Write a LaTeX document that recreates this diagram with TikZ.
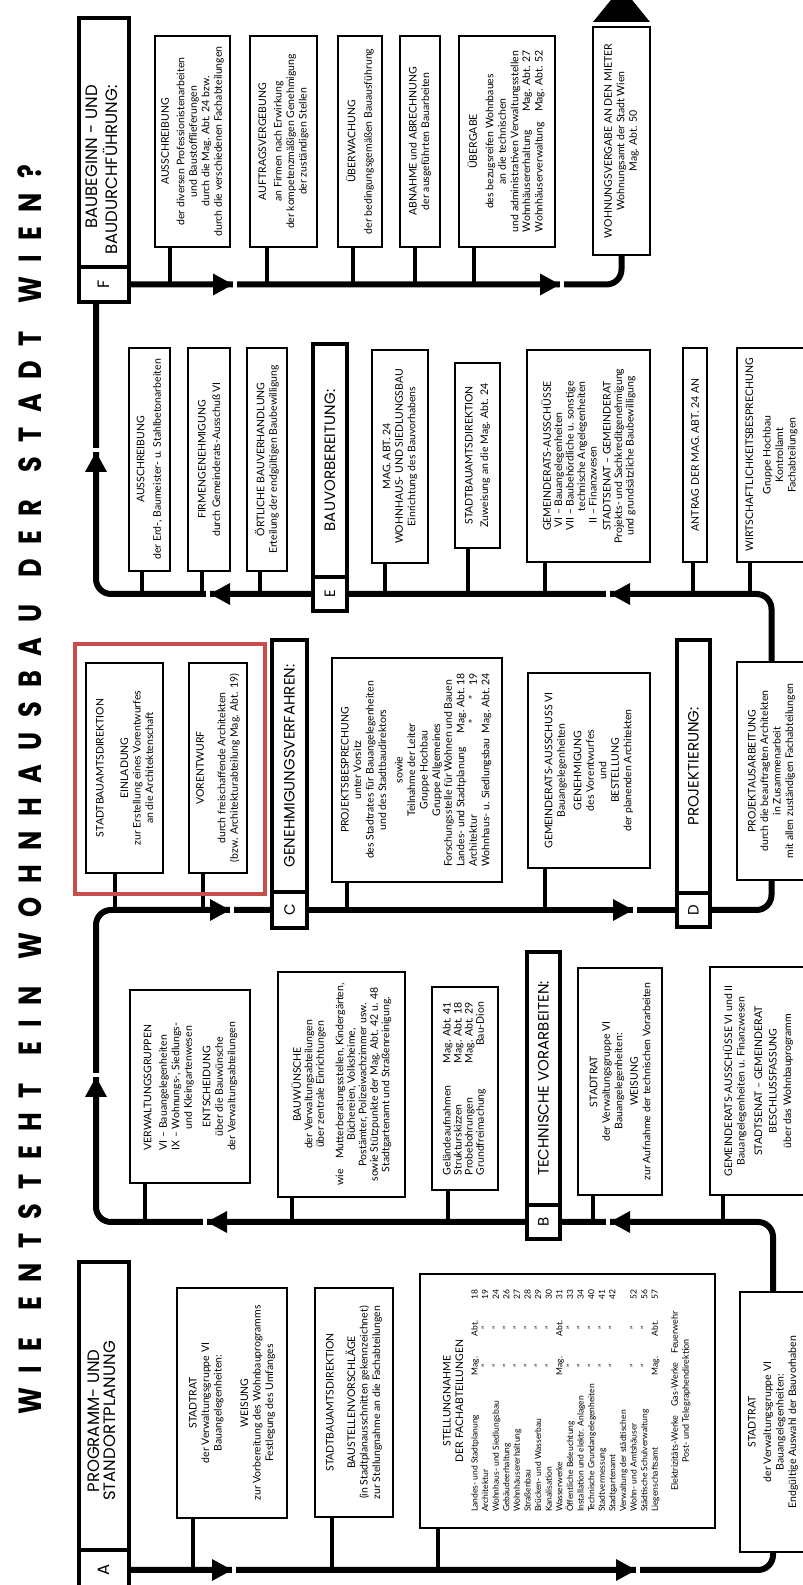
\documentclass[tikz,border=0pt]{standalone}
\usepackage{fontspec}
\setmainfont{Lato}
\newfontfamily\headfont{Poppins}
\newfontfamily\titlefont{Poppins}[LetterSpace=45, FakeStretch=0.8]
\definecolor{markred}{RGB}{199,78,76}

\tikzset{
  box/.style={draw, line width=1.4pt, fill=white, anchor=north west, outer sep=0pt,
    inner sep=1pt, align=center, font=\fontsize{10.5}{12.5}\selectfont},
  sz/.style 2 args={minimum width=#1pt, minimum height=#2pt},
  head/.style={draw, line width=3.8pt, fill=white, anchor=north west, outer sep=0pt,
    inner sep=0pt, align=center, font=\headfont\fontsize{15}{16}\selectfont},
  bighead/.style={head, font=\headfont\fontsize{16.5}{16}\selectfont},
  ttl/.style={anchor=base, inner sep=0pt, font=\titlefont\bfseries\fontsize{32}{32}\selectfont},
  flow/.style={line width=6pt, rounded corners=15pt},
  stub/.style={line width=3.2pt},
  redframe/.style={draw=markred, line width=3.5pt, anchor=north west, outer sep=0pt},
  flowtip/.pic={
    \fill[white] (0,-8) rectangle (4,8);
    \fill (-20,-11) -- (0,0) -- (-20,11) -- cycle;
  },
}

\begin{document}
\begin{tikzpicture}[x=1pt, y=1pt]
\fill[white] (0,0) rectangle (803,1585);
\useasboundingbox (0,0) rectangle (803,1585);
\begin{scope}[transform canvas={rotate=90}]

% title
\node (title) [ttl] at (795,-41) {\hbox to 1250pt{WIE\hfill ENTSTEHT\hfill EIN\hfill WOHNHAUSBAU\hfill DER\hfill STADT\hfill WIEN?}};

% stage headers
\node (hAl) [bighead, sz={40}{50}] at (-5,-79) {A};
\node (hA) [bighead, sz={288}{50}] at (hAl.north east) {\begin{tabular}{@{}c@{}}PROGRAMM- UND\\STANDORTPLANUNG\end{tabular}\hspace*{30pt}};
\node (hBl) [head, sz={34}{33}] at (346,-527) {B};
\node (hB) [head, sz={253}{33}] at (hBl.north east) {TECHNISCHE VORARBEITEN:};
\node (hCl) [head, sz={36}{35}] at (657,-272) {C};
\node (hC) [head, sz={252}{35}] at (hCl.north east) {GENEHMIGUNGSVERFAHREN:};
\node (hDl) [head, sz={34}{33}] at (658,-677) {D};
\node (hD) [head, sz={253}{33}] at (hDl.north east) {PROJEKTIERUNG:};
\node (hEl) [head, sz={34}{34}] at (974,-313) {E};
\node (hE) [head, sz={233}{34}] at (hEl.north east) {BAUVORBEREITUNG:};
\node (hFl) [bighead, sz={35}{50}] at (1283,-79) {F};
\node (hF) [bighead, sz={249}{50}] at (hFl.north east) {\begin{tabular}{@{}r@{}}BAUBEGINN - UND\\BAUDURCHFÜHRUNG:\end{tabular}\hspace*{55pt}};

% A
\node (st1) [box, sz={230}{110}] at (67,-177) {STADTRAT\\der Verwaltungsgruppe VI\\Bauangelegenheiten:\\[14pt]WEISUNG\\zur Vorbereitung des Wohnbauprogramms\\Festlegung des Umfanges};
\node (bsv) [box, sz={229}{78}] at (68,-315) {STADTBAUAMTSDIREKTION\\[9pt]BAUSTELLENVORSCHLÄGE\\(in Stadtplanausschnitten gekennzeichnet)\\zur Stellungnahme an die Fachabteilungen};
\node (stel) [box, sz={254}{295}] at (57,-420) {STELLUNGNAHME\\DER FACHABTEILUNGEN\\[6pt]
  {\fontsize{8.5}{10.6}\selectfont
  \begin{tabular*}{222pt}{@{}l@{\extracolsep{\fill}}ccr@{}}
  Landes- und Stadtplanung & Mag. & Abt. & 18\\
  Architektur & ” & ” & 19\\
  Wohnhaus- und Siedlungsbau & ” & ” & 24\\
  Gebäudeerhaltung & ” & ” & 26\\
  Wohnhäusererhaltung & ” & ” & 27\\
  Straßenbau & ” & ” & 28\\
  Brücken- und Wasserbau & ” & ” & 29\\
  Kanalisation & ” & ” & 30\\
  Wasserwerke & Mag. & Abt. & 31\\
  Öffentliche Beleuchtung & ” & ” & 33\\
  Installation und elektr. Anlagen & ” & ” & 34\\
  Technische Grundangelegenheiten & ” & ” & 40\\
  Stadtvermessung & ” & ” & 41\\
  Stadtgartenamt & ” & ” & 42\\
  Verwaltung der städtischen & & & \\
  Wohn- und Amtshäuser & ” & ” & 52\\
  Städtische Schulverwaltung & ” & ” & 56\\
  Liegenschaftsamt & Mag. & Abt. & 57
  \end{tabular*}}\\[8pt]
  {\fontsize{9}{11}\selectfont\begin{tabular}{@{}c@{}}Elektrizitäts-Werke\quad Gas-Werke\quad Feuerwehr\\Post- und Telegraphendirektion\end{tabular}}};
\node (stBot) [box, sz={260}{66}] at (33,-740) {STADTRAT\\[3pt]der Verwaltungsgruppe VI\\Bauangelegenheiten:\\Endgültige Auswahl der Bauvorhaben};

% B
\node (vwg) [box, sz={193}{120}] at (402,-130) {\begin{tabular}{@{}l@{}}VERWALTUNGSGRUPPEN\\[3pt]VI -- Bauangelegenheiten\\IX -- Wohnungs-, Siedlungs-\\\phantom{IX -- }und Kleingartenwesen\end{tabular}\\[6pt]ENTSCHEIDUNG\\über die Bauwünsche\\der Verwaltungsabteilungen};
\node (bauw) [box, sz={225}{127}, font=\fontsize{10.5}{11.5}\selectfont] at (388,-278) {BAUWÜNSCHE\\der Verwaltungsabteilungen\\über zentrale Einrichtungen\\[8pt]wie\quad Mutterberatungsstellen, Kindergärten,\\Büchereien, Volksheime,\\Postämter, Polizeiwachzimmer usw.\\sowie Stützpunkte der Mag. Abt. 42 u. 48\\Stadtgartenamt und Straßenreinigung.};
\node (gel) [box, sz={203}{66}, font=\fontsize{10.5}{11}\selectfont] at (395,-432) {\begin{tabular}{@{}l@{\hspace{22pt}}r@{}}
  Geländeaufnahmen & Mag. Abt. 41\\
  Strukturskizzen & Mag. Abt. 18\\
  Probebohrungen & Mag. Abt. 29\\
  Grundfreimachung & Bau-Dion
  \end{tabular}};
\node (stB) [box, sz={227}{84}] at (390,-578) {STADTRAT\\der Verwaltungsgruppe VI\\Bauangelegenheiten:\\[3pt]WEISUNG\\zur Aufnahme der technischen Vorarbeiten};
\node (gaVIII) [box, sz={228}{96}] at (390,-710) {GEMEINDERATS-AUSSCHÜSSE VI und II\\Bauangelegenheiten u. Finanzwesen\\[5pt]STADTSENAT -- GEMEINDERAT\\[2pt]BESCHLUSSFASSUNG\\[2pt]über das Wohnbauprogramm};

% C
\node (einl) [box, sz={210}{77}] at (712,-86) {STADTBAUAMTSDIREKTION\\[12pt]EINLADUNG\\zur Erstellung eines Vorentwurfes\\an die Architektenschaft};
\node (vor) [box, sz={210}{58}] at (712,-189) {VORENTWURF\\[9pt]durch freischaffende Architekten\\(bzw. Architekturabteilung Mag. Abt. 19)};
\node (proj) [box, sz={224}{170}] at (703,-332) {PROJEKTSBESPRECHUNG\\unter Vorsitz\\des Stadtrates für Bauangelegenheiten\\und des Stadtbaudirektors\\[4pt]sowie\\Teilnahme der Leiter\\Gruppe Hochbau\\Gruppe Allgemeines\\
  \begin{tabular}{@{}l@{\hspace{5pt}}c@{\hspace{3pt}}c@{\hspace{3pt}}r@{}}
  \multicolumn{4}{@{}l@{}}{Forschungsstelle für Wohnen und Bauen}\\
  Landes- und Stadtplanung & Mag. & Abt. & 18\\
  Architektur & ” & ” & 19\\
  Wohnhaus- u. Siedlungsbau & Mag. & Abt. & 24
  \end{tabular}};
\node (gaVI) [box, sz={195}{122}] at (717,-528) {GEMEINDERATS-AUSSCHUSS VI\\Bauangelegenheiten\\[4pt]GENEHMIGUNG\\des Vorentwurfes\\und\\BESTELLUNG\\der planenden Architekten};

% D
\node (pa) [box, sz={218}{69}] at (705,-737) {PROJEKTAUSARBEITUNG\\durch die beauftragten Architekten\\in Zusammenarbeit\\mit allen zuständigen Fachabteilungen};

% E
\node (aus1) [box, sz={223}{41}] at (1014,-129) {AUSSCHREIBUNG\\[4pt]der Erd-, Baumeister- u. Stahlbetonarbeiten};
\node (firm) [box, sz={223}{42}] at (1014,-188) {FIRMENGENEHMIGUNG\\[2pt]durch Gemeinderats-Ausschuß VI};
\node (oertl) [box, sz={223}{40}] at (1014,-247) {ÖRTLICHE BAUVERHANDLUNG\\Erteilung der endgültigen Baubewilligung};
\node (mag24) [box, sz={213}{56}] at (1022,-372) {MAG. ABT. 24\\WOHNHAUS- UND SIEDLUNGSBAU\\Einrichtung des Bauvorhabens};
\node (sbd2) [box, sz={185}{45}] at (1037,-455) {STADTBAUAMTSDIREKTION\\[3pt]Zuweisung an die Mag. Abt. 24};
\node (gaE) [box, sz={212}{123}, font=\fontsize{10.5}{11.5}\selectfont] at (1023,-527) {GEMEINDERATS-AUSSCHÜSSE\\[2pt]
  \begin{tabular}{@{}r@{ -- }l@{}}
  VI & Bauangelegenheiten\\
  VII & Baubehördliche u. sonstige\\
  \multicolumn{2}{@{}r@{}}{technische Angelegenheiten}\\
  II & Finanzwesen
  \end{tabular}\\[2pt]
  STADTSENAT -- GEMEINDERAT\\Projekts- und Sachkreditgenehmigung\\und grundsätzliche Baubewilligung};
\node (antrag) [box, sz={214}{24}] at (1023,-683) {ANTRAG DER MAG. ABT. 24 AN};
\node (wirt) [box, sz={214}{69}] at (1023,-737) {WIRTSCHAFTLICHKEITSBESPRECHUNG\\[5pt]Gruppe Hochbau\\Kontrollamt\\Fachabteilungen};

% F
\node (aus2) [box, sz={211}{75}] at (1338,-155) {AUSSCHREIBUNG\\[3pt]der diversen Professionistenarbeiten\\und Baustofflieferungen\\durch die Mag. Abt. 24 bzw.\\durch die verschiedenen Fachabteilungen};
\node (auftr) [box, sz={211}{67}] at (1338,-250) {AUFTRAGSVERGEBUNG\\[3pt]an Firmen nach Erwirkung\\der kompetenzmäßigen Genehmigung\\der zuständigen Stellen};
\node (ueberw) [box, sz={211}{44}] at (1338,-338) {ÜBERWACHUNG\\[4pt]der bedingungsgemäßen Bauausführung};
\node (abn) [box, sz={211}{40}] at (1338,-400) {ABNAHME und ABRECHNUNG\\der ausgeführten Bauarbeiten};
\node (uebg) [box, sz={211}{96}] at (1338,-459) {ÜBERGABE\\[4pt]des bezugsreifen Wohnbaues\\an die technischen\\und administrativen Verwaltungsstellen\\
  \begin{tabular}{@{}l@{\hspace{10pt}}l@{}}
  Wohnhäusererhaltung & Mag. Abt. 27\\
  Wohnhäuserverwaltung & Mag. Abt. 52
  \end{tabular}};
\node (wvg) [box, sz={228}{57}] at (1330,-593) {WOHNUNGSVERGABE AN DEN MIETER\\Wohnungsamt der Stadt Wien\\Mag. Abt. 50};

% main flow
\draw[flow] (hAl.south) -- (hAl.south |- stBot.west) -- (stBot.west);
\draw[flow] (stBot.east) -- (hBl.south |- stBot.east) -- (hBl.south);
\draw[flow] (hBl.north) -- (hBl.north |- 0,-96) -- (hCl.north |- 0,-96) -- (hCl.north);
\draw[flow] (hCl.south) -- (hDl.north);
\draw[flow] (hDl.south) -- (hDl.south |- pa.west) -- (pa.west);
\draw[flow] (pa.east) -- (hEl.south |- pa.east) -- (hEl.south);
\draw[flow] (hEl.north) -- (hEl.north |- 0,-96) -- (hFl.west |- 0,-96);
\draw[flow] (hFl.south) -- (hFl.south |- wvg.west) -- (wvg.west);
\fill ([xshift=5pt]wvg.north east) -- ([xshift=40pt]wvg.east) -- ([xshift=5pt]wvg.south east) -- cycle;

% branches
\draw[stub] (st1.west |- 0,-193) -- (hAl |- 0,-193);
\draw[stub] (bsv.west |- 0,-332) -- (hAl |- 0,-332);
\draw[stub] (stel.west |- 0,-438) -- (hAl |- 0,-438);
\draw[stub] (vwg.west |- 0,-145) -- (hBl |- 0,-145);
\draw[stub] (bauw.west |- 0,-292) -- (hBl |- 0,-292);
\draw[stub] (gel.west |- 0,-448) -- (hBl |- 0,-448);
\draw[stub] (stB.west |- 0,-593) -- (hBl |- 0,-593);
\draw[stub] (gaVIII.west |- 0,-723) -- (hBl |- 0,-723);
\draw[stub] (einl.west |- 0,-115) -- (hCl |- 0,-115);
\draw[stub] (vor.west |- 0,-203) -- (hCl |- 0,-203);
\draw[stub] (proj.west |- 0,-347) -- (hCl |- 0,-347);
\draw[stub] (gaVI.west |- 0,-545) -- (hCl |- 0,-545);
\draw[stub] (aus1.west |- 0,-142) -- (hEl |- 0,-142);
\draw[stub] (firm.west |- 0,-202) -- (hEl |- 0,-202);
\draw[stub] (oertl.west |- 0,-260) -- (hEl |- 0,-260);
\draw[stub] (mag24.west |- 0,-385) -- (hEl |- 0,-385);
\draw[stub] (sbd2.west |- 0,-468) -- (hEl |- 0,-468);
\draw[stub] (gaE.west |- 0,-545) -- (hEl |- 0,-545);
\draw[stub] (antrag.west |- 0,-693) -- (hEl |- 0,-693);
\draw[stub] (wirt.west |- 0,-750) -- (hEl |- 0,-750);
\draw[stub] (aus2.west |- 0,-170) -- (hFl |- 0,-170);
\draw[stub] (auftr.west |- 0,-267) -- (hFl |- 0,-267);
\draw[stub] (ueberw.west |- 0,-353) -- (hFl |- 0,-353);
\draw[stub] (abn.west |- 0,-415) -- (hFl |- 0,-415);
\draw[stub] (uebg.west |- 0,-474) -- (hFl |- 0,-474);

% arrow heads on the flow
\pic[rotate=-90] at (hAl |- 0,-232) {flowtip};
\pic[rotate=-90] at (hAl |- 0,-636) {flowtip};
\pic[rotate=90] at (hBl |- 0,-610) {flowtip};
\pic[rotate=90] at (hBl |- 0,-207) {flowtip};
\pic at (508,-96) {flowtip};
\pic[rotate=-90] at (hCl |- 0,-230) {flowtip};
\pic[rotate=-90] at (hCl |- 0,-633) {flowtip};
\pic[rotate=90] at (hEl |- 0,-610) {flowtip};
\pic[rotate=90] at (hEl |- 0,-210) {flowtip};
\pic at (1133,-96) {flowtip};
\pic[rotate=-90] at (hFl |- 0,-233) {flowtip};
\pic[rotate=-90] at (hFl |- 0,-560) {flowtip};

% marked area
\node (sel) [redframe, sz={250}{190}] at (691,-75) {};

\end{scope}
\end{tikzpicture}
\end{document}
